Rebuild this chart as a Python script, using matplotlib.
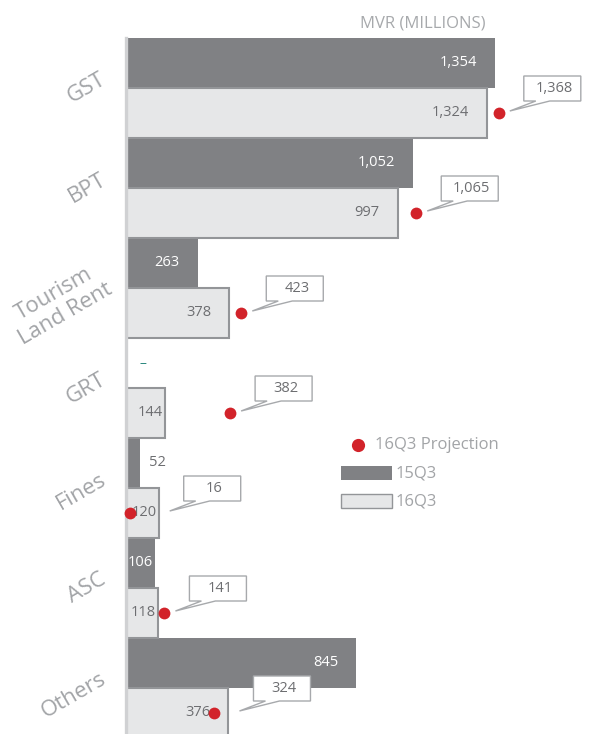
import matplotlib.pyplot as plt
import numpy as np
from matplotlib.patches import Polygon, Rectangle
from matplotlib.transforms import ScaledTranslation, blended_transform_factory

plt.rcParams['font.family'] = ['Open Sans', 'DejaVu Sans']

categories = ["GST", "BPT", "Tourism\nLand Rent", "GRT", "Fines", "ASC", "Others"]
q3_2015 = [1354, 1052, 263, np.nan, 52, 106, 845]
q3_2016 = [1324, 997, 378, 144, 120, 118, 376]
projection = [1368, 1065, 423, 382, 16, 141, 324]

DARK = "#808184"
LIGHT = "#e6e7e8"
EDGE = "#939598"
TEXT = "#6d6e71"
RED = "#d2232a"
LABEL = "#a2a4a7"

W, H = 601, 734
fig = plt.figure(figsize=(W / 100, H / 100), dpi=100)
ax = fig.add_axes([126 / W, 0, 475 / W, 696 / H])
ax.set_xlim(0, 1743)
ax.set_ylim(6.46, -0.5)

ypos = np.arange(len(categories))
ax.barh(ypos - 0.25, q3_2015, height=0.5, color=DARK, zorder=2)
ax.barh(ypos + 0.25, q3_2016, height=0.5, color=LIGHT, edgecolor=EDGE,
        linewidth=1.5, zorder=2)

for s in ["top", "right", "bottom"]:
    ax.spines[s].set_visible(False)
ax.spines["left"].set_color("#d0d1d3")
ax.spines["left"].set_linewidth(2.4)
ax.spines["left"].set_zorder(5)
ax.set_xticks([])
ax.set_yticks([])

px_per_unit = 475 / 1743


def bar_label(value, y, color):
    width = value * px_per_unit
    if width < 25:
        ax.annotate(f"{value:,.0f}", (value, y), xytext=(9, 0),
                    textcoords="offset pixels", ha="left", va="center",
                    fontsize=10.5, color=TEXT, zorder=6)
        return
    pad = 18 if width > 60 else 2
    ax.annotate(f"{value:,.0f}", (value, y), xytext=(-pad, 0),
                textcoords="offset pixels", ha="right", va="center",
                fontsize=10.5, color=color, zorder=6)


for i in range(len(categories)):
    if np.isnan(q3_2015[i]):
        ax.annotate("–", (0, i - 0.25), xytext=(17, 0),
                    textcoords="offset pixels", ha="center", va="center",
                    fontsize=10, color="#2e8a80", zorder=6)
    else:
        bar_label(q3_2015[i], i - 0.25, "white")
    bar_label(q3_2016[i], i + 0.25, TEXT)

# projection dots
ax.plot(projection, ypos + 0.25, "o", color=RED, markersize=8.5,
        markeredgewidth=0, zorder=7, clip_on=False)

# callout boxes with a pointer, sized in inches and anchored on the data
for i, p in enumerate(projection):
    anchor = max(p, q3_2016[i])
    trans = fig.dpi_scale_trans + ScaledTranslation(anchor, i + 0.25, ax.transData)
    left, bottom, bw, bh = 0.25, 0.12, 0.57, 0.25
    pts = [(left, bottom), (left + 0.12, bottom), (0.11, 0.02),
           (left + 0.26, bottom), (left + bw, bottom), (left + bw, bottom + bh),
           (left, bottom + bh)]
    ax.add_patch(Polygon(pts, closed=True, transform=trans, facecolor="white",
                         edgecolor="#a7a9ac", linewidth=1.0, zorder=8,
                         clip_on=False))
    ax.text(left + bw / 2 + 0.02, bottom + bh / 2, f"{p:,.0f}", transform=trans,
            ha="center", va="center", fontsize=10.5, color=TEXT, zorder=9)

# category labels
lab_trans = blended_transform_factory(ax.transAxes, ax.transData)
for i, c in enumerate(categories):
    ax.text(-0.045, i - 0.1, c, transform=lab_trans, rotation=30,
            rotation_mode="anchor", ha="right", va="center",
            multialignment="center", linespacing=1.15,
            fontsize=16, color=LABEL, clip_on=False)


def fx(x):
    return x / W


def fy(y):
    return 1 - y / H


fig.text(fx(486), fy(23), "MVR (MILLIONS)", ha="right", va="center",
         fontsize=12, color="#a7a9ac")

# legend
fig.add_artist(plt.Line2D([fx(358)], [fy(445)], marker="o", color=RED,
                          markersize=9.5, markeredgewidth=0,
                          transform=fig.transFigure))
fig.text(fx(375), fy(445), "16Q3 Projection", ha="left", va="center",
         fontsize=12, color=LABEL)
fig.add_artist(Rectangle((fx(341), fy(480)), fx(51), 14 / H,
                         transform=fig.transFigure, facecolor=DARK,
                         edgecolor="none"))
fig.text(fx(396), fy(473), "15Q3", ha="left", va="center",
         fontsize=12, color=LABEL)
fig.add_artist(Rectangle((fx(341), fy(508)), fx(51), 14 / H,
                         transform=fig.transFigure, facecolor=LIGHT,
                         edgecolor=EDGE, linewidth=1.0))
fig.text(fx(396), fy(501), "16Q3", ha="left", va="center",
         fontsize=12, color=LABEL)

fig.savefig("out.png", dpi=100)
